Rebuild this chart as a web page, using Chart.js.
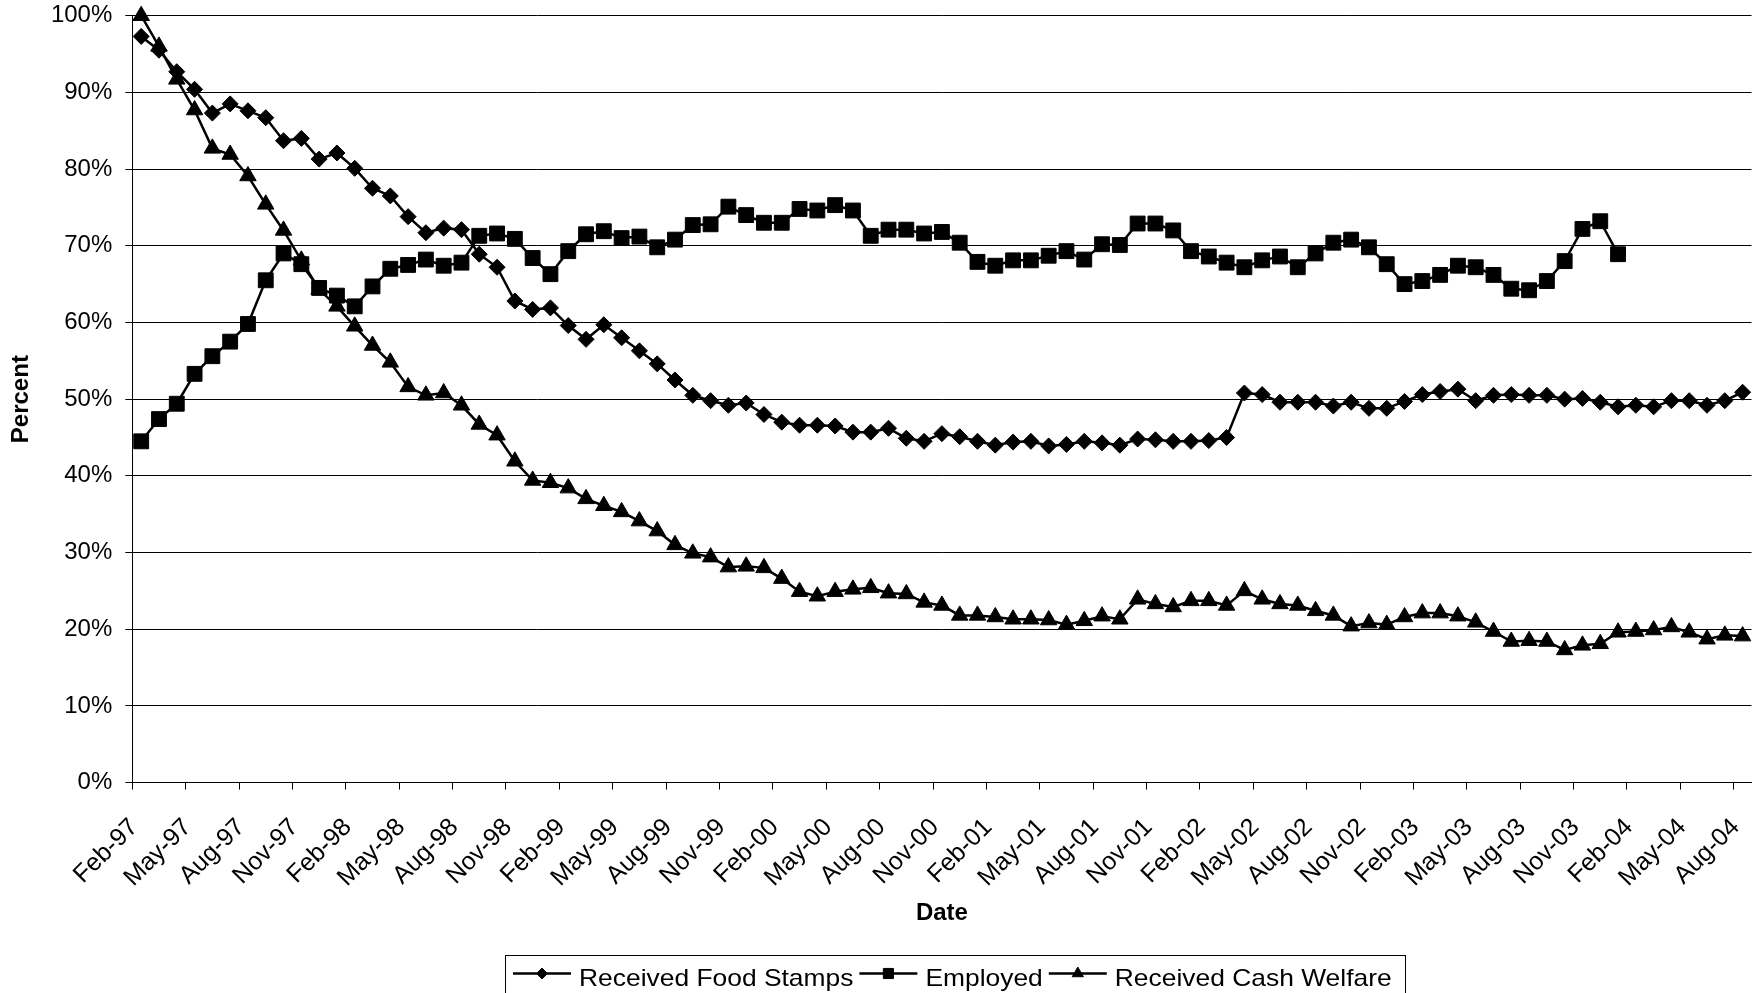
<!DOCTYPE html>
<html>
<head>
<meta charset="utf-8">
<title>Percent of Recipients by Month</title>
<script src="https://cdn.jsdelivr.net/npm/chart.js@4.4.1/dist/chart.umd.min.js"></script>
<style>
  html, body { margin: 0; padding: 0; background: #ffffff; }
  canvas { display: block; }
</style>
</head>
<body>
<canvas id="chart" width="1763" height="993"></canvas>
<script>
// Monthly categories, Feb-97 through Aug-04
const months = [
  'Feb-97','Mar-97','Apr-97','May-97','Jun-97','Jul-97','Aug-97','Sep-97','Oct-97','Nov-97','Dec-97',
  'Jan-98','Feb-98','Mar-98','Apr-98','May-98','Jun-98','Jul-98','Aug-98','Sep-98','Oct-98','Nov-98','Dec-98',
  'Jan-99','Feb-99','Mar-99','Apr-99','May-99','Jun-99','Jul-99','Aug-99','Sep-99','Oct-99','Nov-99','Dec-99',
  'Jan-00','Feb-00','Mar-00','Apr-00','May-00','Jun-00','Jul-00','Aug-00','Sep-00','Oct-00','Nov-00','Dec-00',
  'Jan-01','Feb-01','Mar-01','Apr-01','May-01','Jun-01','Jul-01','Aug-01','Sep-01','Oct-01','Nov-01','Dec-01',
  'Jan-02','Feb-02','Mar-02','Apr-02','May-02','Jun-02','Jul-02','Aug-02','Sep-02','Oct-02','Nov-02','Dec-02',
  'Jan-03','Feb-03','Mar-03','Apr-03','May-03','Jun-03','Jul-03','Aug-03','Sep-03','Oct-03','Nov-03','Dec-03',
  'Jan-04','Feb-04','Mar-04','Apr-04','May-04','Jun-04','Jul-04','Aug-04'
];

// Percent of the cohort in each status, by month
const foodStamps = [
  97.3, 95.5, 92.7, 90.4, 87.3, 88.5, 87.6, 86.7, 83.7, 84.0,
  81.3, 82.1, 80.1, 77.5, 76.5, 73.8, 71.7, 72.3, 72.1, 68.9,
  67.2, 62.8, 61.7, 61.9, 59.6, 57.8, 59.7, 58.0, 56.3, 54.6,
  52.5, 50.5, 49.8, 49.2, 49.5, 48.0, 47.0, 46.6, 46.6, 46.5,
  45.7, 45.7, 46.2, 44.9, 44.5, 45.5, 45.1, 44.5, 44.0, 44.4,
  44.5, 43.9, 44.1, 44.5, 44.3, 44.0, 44.8, 44.7, 44.5, 44.5,
  44.6, 45.0, 50.8, 50.6, 49.6, 49.6, 49.6, 49.1, 49.6, 48.8,
  48.8, 49.7, 50.6, 51.0, 51.3, 49.8, 50.5, 50.6, 50.5, 50.5,
  50.0, 50.1, 49.6, 49.0, 49.2, 49.0, 49.8, 49.8, 49.2, 49.8,
  50.9
];

const employed = [
  44.5, 47.4, 49.4, 53.3, 55.6, 57.5, 59.8, 65.5, 69.0, 67.6,
  64.5, 63.5, 62.1, 64.7, 67.0, 67.5, 68.2, 67.4, 67.8, 71.3,
  71.6, 70.9, 68.4, 66.3, 69.3, 71.5, 71.9, 71.0, 71.2, 69.8,
  70.8, 72.7, 72.8, 75.1, 74.0, 73.0, 73.0, 74.8, 74.6, 75.3,
  74.6, 71.3, 72.1, 72.1, 71.6, 71.8, 70.4, 67.9, 67.4, 68.1,
  68.1, 68.7, 69.3, 68.2, 70.2, 70.1, 72.9, 72.9, 72.0, 69.3,
  68.6, 67.8, 67.2, 68.1, 68.6, 67.2, 69.0, 70.4, 70.8, 69.8,
  67.6, 65.0, 65.4, 66.2, 67.4, 67.2, 66.2, 64.4, 64.2, 65.4,
  68.0, 72.2, 73.2, 68.9
];

const cashWelfare = [
  100.0, 96.0, 91.7, 87.7, 82.7, 81.9, 79.1, 75.4, 72.0, 68.1,
  64.3, 62.1, 59.5, 57.0, 54.8, 51.6, 50.5, 50.8, 49.2, 46.7,
  45.3, 41.9, 39.4, 39.1, 38.4, 37.0, 36.1, 35.3, 34.1, 32.8,
  31.0, 29.9, 29.4, 28.1, 28.2, 28.0, 26.6, 24.9, 24.3, 24.9,
  25.2, 25.4, 24.7, 24.6, 23.5, 23.1, 21.8, 21.8, 21.6, 21.3,
  21.3, 21.2, 20.6, 21.1, 21.7, 21.3, 23.9, 23.3, 22.9, 23.7,
  23.7, 23.1, 25.0, 23.9, 23.3, 23.1, 22.4, 21.8, 20.4, 20.8,
  20.6, 21.6, 22.1, 22.1, 21.7, 20.9, 19.7, 18.4, 18.5, 18.4,
  17.3, 17.9, 18.1, 19.6, 19.7, 19.9, 20.3, 19.6, 18.7, 19.2,
  19.1
];

const seriesNames = ['Received Food Stamps', 'Employed', 'Received Cash Welfare'];
const yRange = { min: 0, max: 100, step: 10 };
const labelEvery = 3;

const FONT = '"Liberation Sans", Arial, Helvetica, sans-serif';
Chart.defaults.font.family = FONT;
Chart.defaults.color = '#000';

// Plot frame in canvas pixels
const FRAME = { left: 132.3, right: 1760, top: 15.7, bottom: 782.6 };
const CANVAS_W = 1763, CANVAS_H = 993;

function seriesStyle(label, data, pointStyle, radius, order) {
  return {
    label, data, pointStyle, order,
    borderColor: '#000', backgroundColor: '#000',
    borderWidth: 2.5, tension: 0, fill: false, clip: false,
    pointRadius: radius, pointHoverRadius: radius,
    pointBackgroundColor: '#000', pointBorderColor: '#000', pointBorderWidth: 1
  };
}

// Legend drawn as a single framed row below the axis title
const framedLegend = {
  id: 'framedLegend',
  afterDraw(chart) {
    const ctx = chart.ctx;
    ctx.save();
    ctx.strokeStyle = '#000';
    ctx.lineWidth = 1;
    ctx.strokeRect(505.5, 955.5, 900, 60);

    const lineY = 973.5, textY = 985.6, widen = 1.1;
    let x = 513;
    ctx.font = '24px ' + FONT;
    ctx.textBaseline = 'alphabetic';
    ctx.textAlign = 'left';
    chart.data.datasets.forEach(ds => {
      ctx.strokeStyle = '#000';
      ctx.fillStyle = '#000';
      ctx.lineWidth = 2.5;
      ctx.beginPath();
      ctx.moveTo(x, lineY);
      ctx.lineTo(x + 58, lineY);
      ctx.stroke();
      ctx.lineWidth = 1;
      Chart.helpers.drawPoint(ctx, {
        pointStyle: ds.pointStyle, radius: ds.pointRadius * 0.68,
        rotation: 0, borderWidth: 1
      }, x + 29, lineY);

      ctx.save();
      ctx.translate(x + 66, textY);
      ctx.scale(widen, 1);
      ctx.fillText(ds.label, 0, 0);
      ctx.restore();
      const w = ctx.measureText(ds.label).width * widen;
      x += 66 + w + 6;
    });
    ctx.restore();
  }
};

new Chart(document.getElementById('chart'), {
  type: 'line',
  data: {
    labels: months,
    datasets: [
      seriesStyle(seriesNames[0], foodStamps, 'rectRot', 8, 3),
      seriesStyle(seriesNames[1], employed, 'rect', 10.5, 2),
      seriesStyle(seriesNames[2], cashWelfare, 'triangle', 9.5, 1)
    ]
  },
  options: {
    responsive: false,
    animation: false,
    devicePixelRatio: 1,
    events: [],
    layout: { padding: { top: FRAME.top, right: CANVAS_W - FRAME.right, left: 0, bottom: 0 } },
    plugins: {
      legend: { display: false },
      tooltip: { enabled: false },
      title: { display: false }
    },
    scales: {
      x: {
        type: 'category',
        offset: true,
        grid: {
          display: true,
          drawOnChartArea: false,
          drawTicks: true,
          offset: true,
          tickLength: 7,
          tickWidth: 1,
          tickColor: c => (c.index % labelEvery === 0 ? '#000' : 'rgba(0,0,0,0)')
        },
        border: { display: true, color: '#000', width: 1 },
        ticks: {
          autoSkip: false,
          maxRotation: 45,
          minRotation: 45,
          padding: 23,
          labelOffset: -7,
          color: '#000',
          font: { size: 25 },
          callback: function (value, index) {
            return index % labelEvery === 0 ? this.getLabelForValue(value) : '';
          }
        },
        title: {
          display: true,
          text: 'Date',
          color: '#000',
          font: { size: 24, weight: 'bold' },
          padding: { top: 0, bottom: 65.2 }
        },
        afterFit(scale) {
          scale.height = CANVAS_H - FRAME.bottom;
          scale.paddingLeft = 0;
          scale.paddingRight = 0;
        }
      },
      y: {
        min: yRange.min,
        max: yRange.max,
        grid: { color: '#000', lineWidth: 1, tickLength: 7, tickColor: '#000' },
        border: { display: true, color: '#000', width: 1 },
        ticks: {
          stepSize: yRange.step,
          padding: 13,
          color: '#000',
          font: { size: 24 },
          callback: v => v + '%'
        },
        title: {
          display: true,
          text: 'Percent',
          color: '#000',
          font: { size: 24, weight: 'bold' },
          padding: { top: 7.3, bottom: 0 }
        },
        afterFit(scale) {
          scale.width = FRAME.left;
          scale.paddingTop = 0;
          scale.paddingBottom = 0;
        }
      }
    }
  },
  plugins: [framedLegend]
});
</script>
</body>
</html>
